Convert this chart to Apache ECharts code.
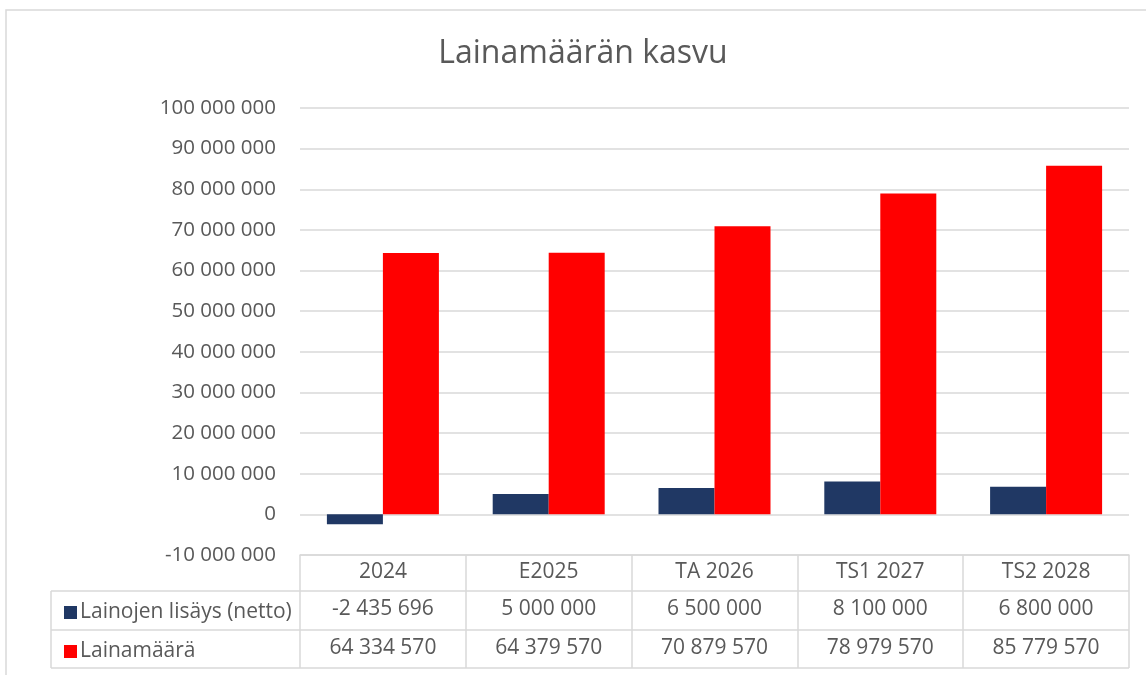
<!DOCTYPE html>
<html>
<head>
<meta charset="utf-8">
<title>Lainamäärän kasvu</title>
<script src="https://cdn.jsdelivr.net/npm/echarts@6/dist/echarts.min.js"></script>
<style>
  html, body { margin: 0; padding: 0; background: #fff; }
  #ec { width: 1146px; height: 675px; }
</style>
</head>
<body>
<div id="ec"></div>
<script>
// 数据
var categories = ['2024', 'E2025', 'TA 2026', 'TS1 2027', 'TS2 2028'];
var seriesNames = ['Lainojen lisäys (netto)', 'Lainamäärä'];
var lisays = [-2435696, 5000000, 6500000, 8100000, 6800000];
var lainamaara = [64334570, 64379570, 70879570, 78979570, 85779570];
var yMin = -10000000, yMax = 100000000, yStep = 10000000;

// 千位空格
function fmt(n) {
  var s = String(Math.abs(Math.round(n))).replace(/\B(?=(\d{3})+(?!\d))/g, ' ');
  return (n < 0 ? '-' : '') + s;
}

var FONT = 'Open Sans';
var TXT = '#595959';
var LINE = '#d9d9d9';

// 布局
var conf = {
  left: 300, right: 17, top: 108, bottom: 120,
  tableLeft: 51, rowH: [36, 39, 38]
};
var plotBottom = 675 - conf.bottom;
var plotRight = 1146 - conf.right;
var row1 = plotBottom + conf.rowH[0];
var row2 = row1 + conf.rowH[1];
var row3 = row2 + conf.rowH[2];

var ec = echarts.init(document.getElementById('ec'));

function valueAxis(data, offset) {
  return {
    type: 'category',
    data: data,
    position: 'bottom',
    offset: offset,
    axisLine: { show: false },
    axisTick: { show: false },
    axisLabel: { color: TXT, fontFamily: FONT, fontSize: 21, margin: 8, interval: 0 }
  };
}

var option = {
  animation: false,
  backgroundColor: '#fff',
  title: {
    text: 'Lainamäärän kasvu',
    left: 578,
    top: 33,
    textAlign: 'center',
    textStyle: { color: TXT, fontFamily: FONT, fontSize: 32, fontWeight: 'normal' }
  },
  legend: {
    orient: 'vertical',
    left: 59,
    top: row1 + 5,
    itemWidth: 13,
    itemHeight: 13,
    itemGap: 16,
    icon: 'rect',
    selectedMode: false,
    textStyle: { color: TXT, fontFamily: FONT, fontSize: 21, lineHeight: 23, padding: [0, 0, 0, -2] },
    data: seriesNames
  },
  grid: { left: conf.left, right: conf.right, top: conf.top, bottom: conf.bottom, containLabel: false },
  xAxis: [
    {
      type: 'category',
      data: categories,
      position: 'bottom',
      axisLine: { onZero: false, lineStyle: { color: LINE, width: 1.5 } },
      axisTick: { show: true, length: row3 - plotBottom, lineStyle: { color: LINE, width: 1.5 } },
      axisLabel: { color: TXT, fontFamily: FONT, fontSize: 21, margin: 7, interval: 0 }
    },
    valueAxis(lisays.map(fmt), conf.rowH[0]),
    valueAxis(lainamaara.map(fmt), conf.rowH[0] + conf.rowH[1])
  ],
  yAxis: {
    type: 'value',
    min: yMin,
    max: yMax,
    interval: yStep,
    axisLine: { show: false },
    axisTick: { show: false },
    splitLine: { lineStyle: { color: LINE, width: 1.5 } },
    axisLabel: { color: TXT, fontFamily: FONT, fontSize: 20.5, margin: 24, formatter: fmt }
  },
  series: [
    {
      name: seriesNames[0],
      type: 'bar',
      data: lisays,
      barWidth: 56,
      barGap: '0%',
      itemStyle: { color: '#203864' }
    },
    {
      name: seriesNames[1],
      type: 'bar',
      data: lainamaara,
      barWidth: 56,
      itemStyle: { color: '#ff0000' }
    }
  ],
  graphic: [
    // 外框
    { type: 'rect', shape: { x: 6, y: 10, width: 1200, height: 700 }, style: { fill: null, stroke: LINE, lineWidth: 1.5 }, silent: true },
    // 表格横线
    { type: 'line', shape: { x1: conf.tableLeft, y1: row1, x2: plotRight, y2: row1 }, style: { stroke: LINE, lineWidth: 1.5 }, silent: true },
    { type: 'line', shape: { x1: conf.tableLeft, y1: row2, x2: plotRight, y2: row2 }, style: { stroke: LINE, lineWidth: 1.5 }, silent: true },
    { type: 'line', shape: { x1: conf.tableLeft, y1: row3, x2: plotRight, y2: row3 }, style: { stroke: LINE, lineWidth: 1.5 }, silent: true },
    // 表格左线
    { type: 'line', shape: { x1: conf.tableLeft, y1: row1, x2: conf.tableLeft, y2: row3 }, style: { stroke: LINE, lineWidth: 1.5 }, silent: true }
  ]
};
ec.setOption(option);
</script>
</body>
</html>
